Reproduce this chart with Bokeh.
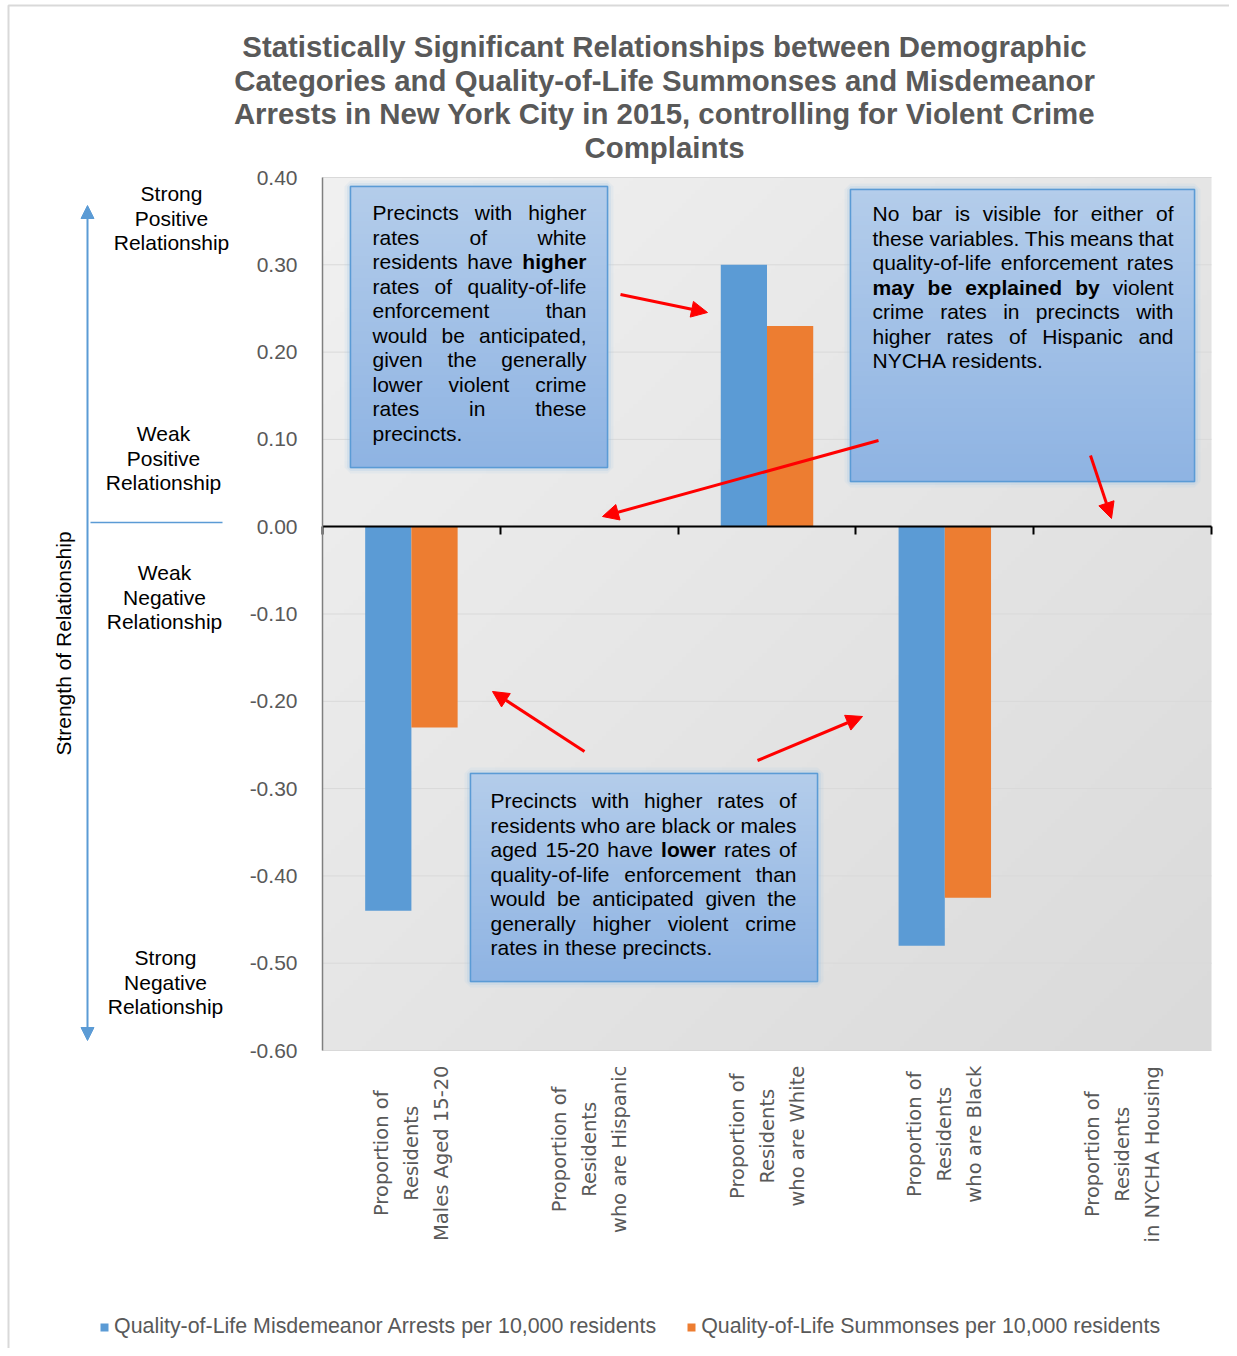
import numpy as np
from math import pi
from bokeh.plotting import figure
from bokeh.models import (Range1d, FixedTicker, NumeralTickFormatter, Label, Arrow,
                          NormalHead, ColumnDataSource, Legend, LegendItem)
from bokeh.core.properties import value, field
from bokeh.embed import file_html
from bokeh.resources import INLINE

# ---------------- data ----------------
TITLE_LINES = [
    "Statistically Significant Relationships between Demographic",
    "Categories and Quality-of-Life Summonses and Misdemeanor",
    "Arrests in New York City in 2015, controlling for Violent Crime",
    "Complaints",
]
CATEGORY_LINES = [
    ["Proportion of", "Residents", "Males Aged 15-20"],
    ["Proportion of", "Residents", "who are Hispanic"],
    ["Proportion of", "Residents", "who are White"],
    ["Proportion of", "Residents", "who are Black"],
    ["Proportion of", "Residents", "in NYCHA Housing"],
]
SERIES = ["Quality-of-Life Misdemeanor Arrests per 10,000 residents",
          "Quality-of-Life Summonses per 10,000 residents"]
ARRESTS = [-0.44, 0.0, 0.30, -0.48, 0.0]
SUMMONSES = [-0.23, 0.0, 0.23, -0.425, 0.0]
Y_TICKS = [0.40, 0.30, 0.20, 0.10, 0.00, -0.10, -0.20, -0.30, -0.40, -0.50, -0.60]
Y_TITLE = "Strength of Relationship"
SCALE_NOTES = [["Strong", "Positive", "Relationship"],
               ["Weak", "Positive", "Relationship"],
               ["Weak", "Negative", "Relationship"],
               ["Strong", "Negative", "Relationship"]]
BOX1_LINES = ["Precincts with higher", "rates of white", "residents have *higher",
              "rates of quality-of-life", "enforcement than", "would be anticipated,",
              "given the generally", "lower violent crime", "rates in these", "precincts."]
BOX2_LINES = ["No bar is visible for either of", "these variables. This means that",
              "quality-of-life enforcement rates", "*may *be *explained *by violent",
              "crime rates in precincts with", "higher rates of Hispanic and",
              "NYCHA residents."]
BOX3_LINES = ["Precincts with higher rates of", "residents who are black or males",
              "aged 15-20 have *lower rates of", "quality-of-life enforcement than",
              "would be anticipated given the", "generally higher violent crime",
              "rates in these precincts."]

# ---------------- layout (page pixels) ----------------
W, H = 1229, 1348
NCAT = len(CATEGORY_LINES)
VMIN, VMAX = Y_TICKS[-1], Y_TICKS[0]
PL, PR, PT, PB = 322, 1211, 177, 1050   # plot area in page pixels


def X(px):
    return (px - PL) * NCAT / (PR - PL)


def Y(py):
    return VMAX - (py - PT) * (VMAX - VMIN) / (PB - PT)


FONT = "Liberation Sans"
GRAY = "#595959"
BLUE = "#5b9bd5"
ORANGE = "#ed7d31"

# text metrics (Arial-compatible) for justification
_reg = dict(zip("abcdefghijklmnopqrstuvwxyz",
                [556, 556, 500, 556, 556, 278, 556, 556, 222, 222, 500, 222, 833, 556, 556,
                 556, 556, 333, 500, 278, 556, 500, 722, 500, 500, 500]))
_reg.update({"P": 667, "N": 722, "T": 611, "H": 722, "Y": 667, "C": 722, "A": 667,
             "-": 333, ",": 278, ".": 278, " ": 278})
_reg.update({d: 556 for d in "0123456789"})
_bold = dict(zip("abcdefghijklmnopqrstuvwxyz",
                 [556, 611, 556, 611, 556, 333, 611, 611, 278, 278, 556, 278, 889, 611, 611,
                  611, 611, 389, 556, 333, 611, 556, 778, 556, 556, 500]))
_dv = {" ": 318, "-": 361, "A": 684, "B": 686, "C": 698, "H": 752, "I": 295, "M": 863,
       "N": 748, "P": 603, "R": 695, "W": 989, "Y": 611, "a": 613, "b": 635, "c": 550,
       "d": 635, "e": 615, "f": 352, "g": 635, "h": 634, "i": 278, "k": 579, "l": 278,
       "m": 974, "n": 634, "o": 612, "p": 635, "r": 411, "s": 521, "t": 392, "u": 634,
       "v": 592, "w": 818, "y": 592}
_dv.update({d: 636 for d in "0123456789"})


def wwidth(w, bold, fs):
    t = _bold if bold else _reg
    return sum(t.get(c, 556) for c in w) * fs / 1000.0


p = figure(width=W, height=H, x_range=Range1d(X(0), X(W)), y_range=Range1d(Y(H), Y(0)),
           output_backend="svg", toolbar_location=None, title=None,
           min_border_left=0, min_border_right=0, min_border_top=0, min_border_bottom=0)
p.outline_line_color = None
p.background_fill_color = "white"
p.border_fill_color = "white"
p.xgrid.visible = False
p.ygrid.visible = False

# chart-area border
p.quad(left=X(8), right=X(W + 50), top=Y(5), bottom=Y(H + 50), fill_color=None,
       line_color="#d9d9d9", line_width=2)

# plot-area gradient
n = 200
u = np.linspace(0, 1, n)
v = np.linspace(0, 1, n)
t = (u[None, :] + (1 - v[:, None])) / 2
g = (241 - 23 * t).astype(np.uint8)
img = np.empty((n, n), dtype=np.uint32)
view = img.view(dtype=np.uint8).reshape((n, n, 4))
view[..., 0] = g
view[..., 1] = g
view[..., 2] = g
view[..., 3] = 255
p.image_rgba(image=[img], x=0, y=VMIN, dw=NCAT, dh=VMAX - VMIN)

# gridlines
p.segment(x0=0, x1=NCAT, y0=Y_TICKS, y1=Y_TICKS, line_color="#d9d9d9", line_width=1)

# axes (placed at fixed locations inside the full-canvas frame)
p.yaxis.fixed_location = 0
p.yaxis.bounds = (VMIN, VMAX)
p.yaxis.ticker = FixedTicker(ticks=Y_TICKS)
p.yaxis.formatter = NumeralTickFormatter(format="0.00")
p.yaxis.axis_line_color = "#7f7f7f"
p.yaxis.axis_line_width = 1.5
p.yaxis.major_tick_line_color = None
p.yaxis.minor_tick_line_color = None
p.yaxis.major_label_standoff = 19
p.yaxis.major_label_text_font = FONT
p.yaxis.major_label_text_font_size = "21px"
p.yaxis.major_label_text_color = GRAY

p.xaxis.fixed_location = 0
p.xaxis.bounds = (0, NCAT)
p.xaxis.ticker = FixedTicker(ticks=list(range(NCAT + 1)))
p.xaxis.major_label_overrides = {i: "" for i in range(NCAT + 1)}
p.xaxis.axis_line_color = "black"
p.xaxis.axis_line_width = 2
p.xaxis.major_tick_line_color = "black"
p.xaxis.major_tick_line_width = 2
p.xaxis.major_tick_in = 0
p.xaxis.major_tick_out = 8
p.xaxis.minor_tick_line_color = None

# bars
centers = np.arange(NCAT) + 0.5
src = ColumnDataSource(dict(xa=centers - 0.13, xs=centers + 0.13,
                            arrests=ARRESTS, summ=SUMMONSES))
r1 = p.vbar(x="xa", top="arrests", bottom=0, width=0.26, source=src,
            fill_color=BLUE, line_color=None)
r2 = p.vbar(x="xs", top="summ", bottom=0, width=0.26, source=src,
            fill_color=ORANGE, line_color=None)

# callout boxes
BOXES = [((350, 186, 607, 467), (372, 586, 212), BOX1_LINES),
         ((850, 189, 1194, 481), (872, 1173, 213), BOX2_LINES),
         ((470, 773, 817, 981), (490, 796, 800), BOX3_LINES)]
bn = 64
bt = np.linspace(0, 1, bn)[:, None]  # 0 bottom -> 1 top
top_c = np.array([180, 205, 235])
bot_c = np.array([143, 180, 227])
bimg = np.empty((bn, 2), dtype=np.uint32)
bview = bimg.view(dtype=np.uint8).reshape((bn, 2, 4))
for k in range(3):
    bview[..., k] = (bot_c[k] + (top_c[k] - bot_c[k]) * bt).astype(np.uint8)
bview[..., 3] = 255

FS = 21
LS = 24.5
wx, wy, wt, wsty = [], [], [], []
for (l, tp, r, b), (tl, tr, ty), lines in BOXES:
    for lw, la in [(12, 0.12), (7, 0.2), (3, 0.3)]:
        p.quad(left=X(l), right=X(r), top=Y(tp), bottom=Y(b), fill_color=None,
               line_color="#9dc3e6", line_alpha=la, line_width=lw)
    p.image_rgba(image=[bimg], x=X(l), y=Y(b), dw=X(r) - X(l), dh=Y(tp) - Y(b))
    p.quad(left=X(l), right=X(r), top=Y(tp), bottom=Y(b), fill_color=None,
           line_color=BLUE, line_width=1.5)
    for k, line in enumerate(lines):
        words = [(tok.lstrip("*"), tok.startswith("*")) for tok in line.split(" ")]
        widths = [wwidth(w_, b_, FS) for w_, b_ in words]
        last = k == len(lines) - 1
        if not last and len(words) > 1:
            gap = (tr - tl - sum(widths)) / (len(words) - 1)
        else:
            gap = 278 * FS / 1000.0
        x = tl
        for (w_, b_), wd in zip(words, widths):
            wx.append(X(x))
            wy.append(Y(ty + k * LS))
            wt.append(w_)
            wsty.append("bold" if b_ else "normal")
            x += wd + gap

wsrc = ColumnDataSource(dict(x=wx, y=wy, text=wt, style=wsty))
p.text(x="x", y="y", text="text", source=wsrc, text_font=value(FONT),
       text_font_size=f"{FS}px", text_font_style=field("style"),
       text_align="left", text_baseline="middle", text_color="black")

# red arrows
RED_ARROWS = [((620, 294), (707, 312)), ((878, 440), (602, 516)),
              ((1090, 455), (1111, 518)), ((584, 751), (492, 691)),
              ((757, 760), (862, 716))]
for (sx, sy), (ex, ey) in RED_ARROWS:
    p.add_layout(Arrow(end=NormalHead(size=16, fill_color="red", line_color="red",
                                      line_width=1),
                       x_start=X(sx), y_start=Y(sy), x_end=X(ex), y_end=Y(ey),
                       line_color="red", line_width=3))

# title
for i, line in enumerate(TITLE_LINES):
    p.add_layout(Label(x=X(664), y=Y(46 + i * 33.7), text=line, text_align="center",
                       text_baseline="middle", text_font=FONT, text_font_size="29.4px",
                       text_font_style="bold", text_color=GRAY))

# category labels
CAT_FS = 19.5
for i, lines in enumerate(CATEGORY_LINES):
    maxlen = max(sum(_dv.get(c, 600) for c in ln) * CAT_FS / 1000.0 for ln in lines)
    cy = 1065 + maxlen / 2
    for j, ln in enumerate(lines):
        p.add_layout(Label(x=centers[i], y=Y(cy), x_offset=(j - 1) * 30, text=ln,
                           angle=pi / 2, text_align="center", text_baseline="middle",
                           text_font="DejaVu Sans", text_font_size=f"{CAT_FS}px",
                           text_color=GRAY))

# left side scale
NOTE_POS = [(171, 193), (163, 433), (164, 572), (165, 957)]
for (cx, cy), lines in zip(NOTE_POS, SCALE_NOTES):
    for j, ln in enumerate(lines):
        p.add_layout(Label(x=X(cx), y=Y(cy + j * 24.7), text=ln, text_align="center",
                           text_baseline="middle", text_font=FONT,
                           text_font_size="21px", text_color="black"))
p.add_layout(Label(x=X(63), y=Y(643), text=Y_TITLE, angle=pi / 2, text_align="center",
                   text_baseline="middle", text_font=FONT, text_font_size="21px",
                   text_color="black"))
p.add_layout(Arrow(start=NormalHead(size=13, fill_color=BLUE, line_color=BLUE),
                   end=NormalHead(size=13, fill_color=BLUE, line_color=BLUE),
                   x_start=X(87), y_start=Y(1040), x_end=X(87), y_end=Y(205),
                   line_color=BLUE, line_width=2))
p.add_layout(Arrow(end=None, x_start=X(90), y_start=Y(522), x_end=X(222), y_end=Y(522),
                   line_color=BLUE, line_width=1.5))

# legend
legend = Legend(items=[LegendItem(label=SERIES[0], renderers=[r1]),
                       LegendItem(label=SERIES[1], renderers=[r2])],
                orientation="horizontal", location=(99, H - 1339),
                glyph_width=10, glyph_height=10, label_standoff=5, spacing=30,
                padding=0, margin=0, label_text_font=FONT, label_text_font_size="21.4px",
                label_text_color=GRAY, background_fill_alpha=0, border_line_alpha=0)
p.add_layout(legend)

open("out.html", "w").write(file_html(p, INLINE))
